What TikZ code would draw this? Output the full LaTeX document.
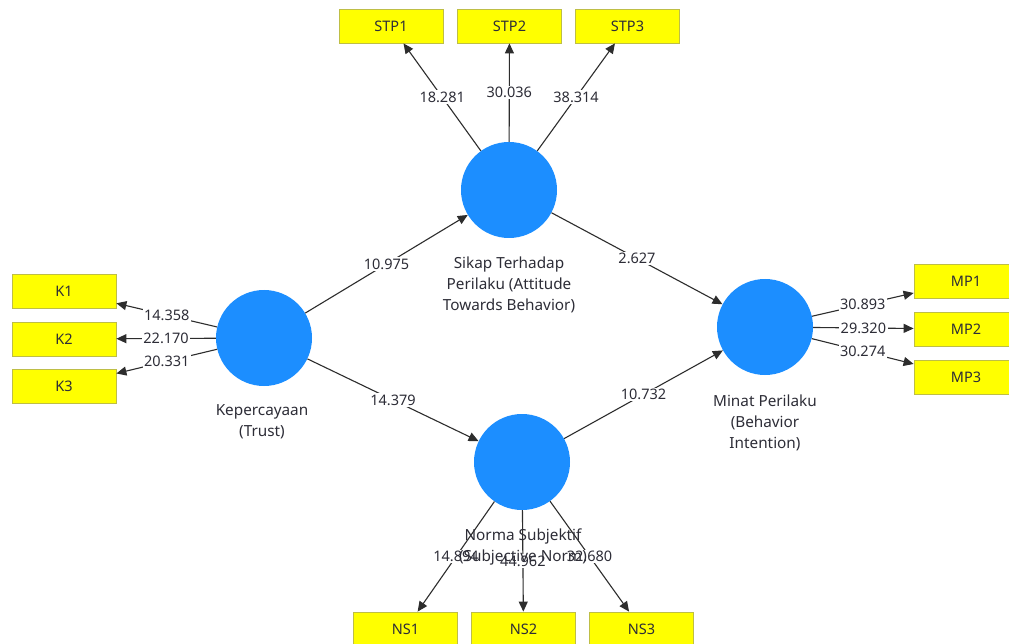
\documentclass[tikz,border=0pt]{standalone}
\usepackage{fontspec}
\setmainfont{Noto Sans}
\usetikzlibrary{arrows.meta}
\definecolor{lvblue}{RGB}{28,142,255}
\definecolor{mvyellow}{RGB}{255,255,0}
\definecolor{mvborder}{RGB}{190,190,70}
\definecolor{txt}{RGB}{45,45,55}
\definecolor{edgecol}{RGB}{45,45,45}
\begin{document}
\begin{tikzpicture}[x=1pt,y=-1pt,
  latent/.style={circle, fill=lvblue, minimum size=96pt, inner sep=0pt},
  indicator/.style={rectangle, fill=mvyellow, draw=mvborder, line width=0.8pt, minimum width=104pt, minimum height=34pt, inner sep=0pt, text=txt, font=\fontsize{14.5}{17}\selectfont},
  link/.style={draw=edgecol, line width=1.1pt, -{Triangle[length=10pt,width=9pt]}},
  coef/.style={midway, fill=white, inner sep=1.5pt, text=txt, font=\fontsize{14.5}{17}\selectfont},
  lvtext/.style={align=center, text=txt, font=\fontsize{15.3}{21}\selectfont, inner sep=0pt}]
\useasboundingbox (0,0) rectangle (1009,644);
\clip (0,0) rectangle (1009,644);
\fill[white] (0,0) rectangle (1009,644);

% latent variables
\node[latent] (KP) at (264,338) {};
\node[latent] (SP) at (509,190) {};
\node[latent] (MP) at (765,327) {};
\node[latent] (NS) at (522,462) {};

% indicators
\node[indicator] (STP1) at (391,26) {STP1};
\node[indicator] (STP2) at (509.5,26) {STP2};
\node[indicator] (STP3) at (627.5,26) {STP3};
\node[indicator] (K1) at (64,291) {K1};
\node[indicator] (K2) at (64,339) {K2};
\node[indicator] (K3) at (64,386) {K3};
\node[indicator] (MP1) at (966,281) {MP1};
\node[indicator] (MP2) at (966,329) {MP2};
\node[indicator] (MP3) at (966,377) {MP3};
\node[indicator] (NS1) at (405.5,629) {NS1};
\node[indicator] (NS2) at (523.5,629) {NS2};
\node[indicator] (NS3) at (641.5,629) {NS3};

% outer model
\draw[link] (SP) -- (STP1) node[coef] {18.281};
\draw[link] (SP) -- (STP2) node[coef] {30.036};
\draw[link] (SP) -- (STP3) node[coef] {38.314};
\draw[link] (KP) -- (K1) node[coef] {14.358};
\draw[link] (KP) -- (K2) node[coef] {22.170};
\draw[link] (KP) -- (K3) node[coef] {20.331};
\draw[link] (MP) -- (MP1) node[coef] {30.893};
\draw[link] (MP) -- (MP2) node[coef] {29.320};
\draw[link] (MP) -- (MP3) node[coef] {30.274};
\draw[link] (NS) -- (NS1) node[coef] {14.894};
\draw[link] (NS) -- (NS2) node[coef] {44.962};
\draw[link] (NS) -- (NS3) node[coef] {32.680};

% inner model
\draw[link] (KP) -- (SP) node[coef] {10.975};
\draw[link] (SP) -- (MP) node[coef] {2.627};
\draw[link] (KP) -- (NS) node[coef] {14.379};
\draw[link] (NS) -- (MP) node[coef] {10.732};

% latent labels
\node[lvtext] (KPl) at (262,422) {Kepercayaan\\(Trust)};
\node[lvtext] (SPl) at (509,285) {Sikap Terhadap\\Perilaku (Attitude\\Towards Behavior)};
\node[lvtext] (MPl) at (765,423) {Minat Perilaku\\(Behavior\\Intention)};
\node[lvtext] (NSl) at (523,547) {Norma Subjektif\\(Subjective Norm)};
\end{tikzpicture}
\end{document}
